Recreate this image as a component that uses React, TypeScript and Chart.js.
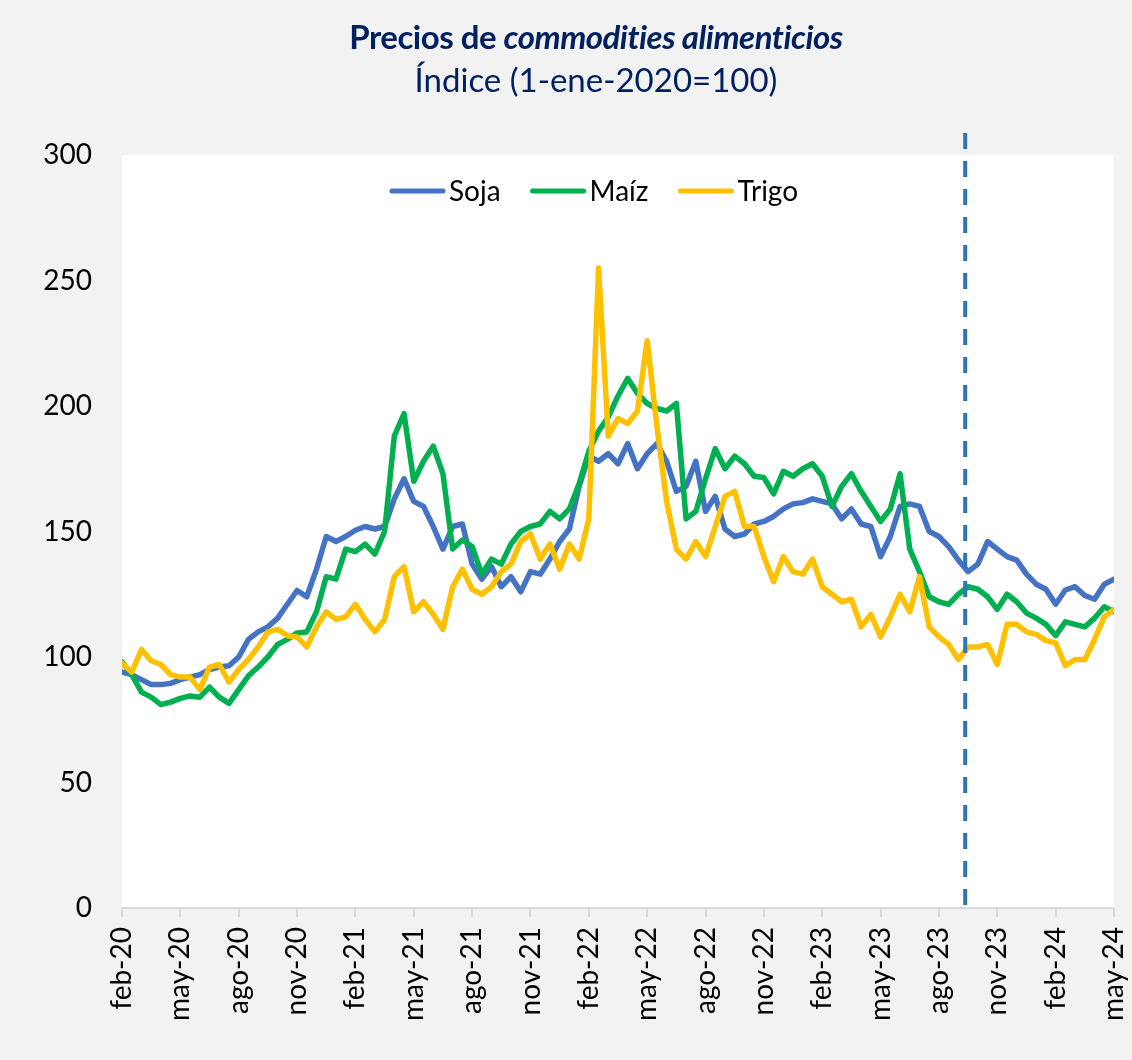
import React, { useEffect, useRef } from "react";
import { Chart, registerables } from "chart.js";

Chart.register(...registerables);

// Quarterly tick labels (x axis in months since feb-20)
const tickLabels = [
  "feb-20", "may-20", "ago-20", "nov-20",
  "feb-21", "may-21", "ago-21", "nov-21",
  "feb-22", "may-22", "ago-22", "nov-22",
  "feb-23", "may-23", "ago-23", "nov-23",
  "feb-24", "may-24",
];

const seriesNames = ["Soja", "Maíz", "Trigo"];
const seriesColors = ["#4472C4", "#00B050", "#FFC000"];

// Semi-monthly readings (index 1-ene-2020 = 100)
const sampleStepMonths = 0.5;

const soja = [
  94, 93, 91, 89, 89, 89.5, 91, 92, 93, 95,
  96, 96.5, 100, 107, 110, 112, 115.5, 121, 126.5, 124,
  135, 148, 146, 148, 150.5, 152, 151, 152, 163, 171,
  162, 160, 152, 143, 152, 153, 137, 131, 136, 128,
  132, 126, 134, 133, 139, 146, 151, 168, 180, 178,
  181, 177, 185, 175, 181, 185, 178, 166, 168, 178,
  158, 164, 151, 148, 149, 153, 154, 156, 159, 161,
  161.5, 163, 162, 161, 155, 159, 153, 152, 140, 148,
  160, 161, 160, 150, 148, 144, 138.6, 134, 137, 146,
  143, 140, 138.6, 133, 129, 127, 121, 126.7, 128, 124.5,
  123, 129, 131,
];

const maiz = [
  98, 93, 86, 84, 81, 82, 83.5, 84.5, 84, 88,
  84, 81.5, 87, 92.5, 96, 100, 105, 107, 109.6, 110,
  118, 132, 131, 143, 142, 145, 141, 150, 188, 197,
  170, 178, 184, 173, 143, 146.6, 144, 133, 139, 137,
  145, 150, 152, 153, 158, 155, 159, 169, 182, 190,
  195.6, 204, 211, 205, 201, 199, 198, 201, 155, 158,
  171, 183, 175, 180, 177, 172, 171.5, 165, 174, 172,
  175, 177, 172, 160, 168, 173, 166, 160, 154, 159,
  173, 143, 134, 124, 122, 121, 125, 128, 127, 124,
  119, 125, 122, 117.5, 115.5, 113, 108.5, 114, 113, 112,
  115.5, 120, 118,
];

const trigo = [
  97.5, 94, 103, 98.5, 97, 93, 92, 92, 87, 96,
  97, 90, 95, 99, 104, 110, 111, 108.5, 108, 104,
  112, 118, 115, 116, 121, 115, 110, 115, 132, 136,
  118, 122, 117, 111, 128, 135, 127, 125, 128, 134,
  137, 146, 149, 139, 145, 135, 145, 139, 155, 255,
  188, 195, 193, 198, 226, 192, 162, 143, 139, 146,
  140, 152, 164, 166, 152, 152, 140, 130, 140, 134,
  133, 139, 128, 125, 122, 123, 112, 117, 108, 116,
  125, 118, 132, 112, 108, 105, 99, 104, 104, 105,
  97, 113, 113, 110, 109, 106.5, 105.6, 96.5, 99, 99,
  107, 116, 119,
];

const seriesValues = [soja, maiz, trigo];

// Vertical marker (mid-September 2023), in months since feb-20
const markerMonth = 43.35;

const FONT = 'Lato, "Open Sans", sans-serif';

export default function App() {
  const ref = useRef<HTMLCanvasElement>(null);

  useEffect(() => {
    if (!ref.current) return;

    const plotBg = {
      id: "plotBg",
      beforeDraw(chart: any) {
        const { ctx, chartArea: a } = chart;
        ctx.save();
        ctx.fillStyle = "#FFFFFF";
        ctx.fillRect(a.left, a.top, a.right - a.left, a.bottom - a.top);
        ctx.restore();
      },
    };

    const marker = {
      id: "marker",
      afterDatasetsDraw(chart: any) {
        const { ctx, chartArea: a } = chart;
        const x = chart.scales.x.getPixelForValue(markerMonth);
        ctx.save();
        ctx.strokeStyle = "#2E75B6";
        ctx.lineWidth = 4;
        ctx.setLineDash([16, 12]);
        ctx.beginPath();
        ctx.moveTo(x, a.top - 22);
        ctx.lineTo(x, a.bottom - 2);
        ctx.stroke();
        ctx.restore();
      },
    };

    const lineLegend = {
      id: "lineLegend",
      afterDraw(chart: any) {
        const { ctx, chartArea: a } = chart;
        ctx.save();
        ctx.font = `28px ${FONT}`;
        ctx.textBaseline = "middle";
        const sampleW = 55;
        const gapText = 4;
        const gapItem = 30;
        let x = a.left + 268;
        const y = a.top + 36;
        chart.data.datasets.forEach((ds: any) => {
          ctx.strokeStyle = ds.borderColor;
          ctx.lineWidth = 5;
          ctx.lineCap = "round";
          ctx.beginPath();
          ctx.moveTo(x + 2, y);
          ctx.lineTo(x + sampleW - 2, y);
          ctx.stroke();
          ctx.fillStyle = "#000";
          ctx.fillText(ds.label, x + sampleW + gapText, y + 1);
          x += sampleW + gapText + ctx.measureText(ds.label).width + gapItem;
        });
        ctx.restore();
      },
    };

    const datasets = seriesNames.map((name, k) => ({
      label: name,
      data: seriesValues[k].map((v, i) => ({ x: i * sampleStepMonths, y: v })),
      borderColor: seriesColors[k],
      backgroundColor: seriesColors[k],
      borderWidth: 5.5,
      pointRadius: 0,
      tension: 0,
      borderJoinStyle: "round" as const,
      borderCapStyle: "round" as const,
      order: 3 - k,
    }));

    const chart = new Chart(ref.current, {
      type: "line",
      data: { datasets },
      options: {
        responsive: false,
        animation: false,
        devicePixelRatio: 1,
        layout: { padding: { left: 0, top: 155, right: 18, bottom: 0 } },
        plugins: {
          legend: { display: false },
          title: { display: false },
          tooltip: { enabled: false },
        },
        scales: {
          x: {
            type: "linear",
            min: 0,
            max: (tickLabels.length - 1) * 3,
            afterFit(scale: any) {
              scale.height = 152;
              scale.paddingLeft = 0;
              scale.paddingRight = 0;
            },
            ticks: {
              stepSize: 3,
              autoSkip: false,
              maxRotation: 90,
              minRotation: 90,
              padding: 10,
              color: "#000",
              font: { family: FONT, size: 28 },
              callback: (v: any) => tickLabels[Math.round(Number(v) / 3)] ?? "",
            },
            grid: {
              display: true,
              drawOnChartArea: false,
              drawTicks: true,
              tickLength: 9,
              color: "#D9D9D9",
              lineWidth: 2,
            },
            border: { display: true, color: "#D9D9D9", width: 2 },
          },
          y: {
            min: 0,
            max: 300,
            afterFit(scale: any) {
              scale.width = 122;
              scale.paddingTop = 0;
              scale.paddingBottom = 0;
            },
            ticks: {
              stepSize: 50,
              padding: 30,
              color: "#000",
              font: { family: FONT, size: 28 },
            },
            grid: { display: false, drawTicks: false },
            border: { display: false },
          },
        },
      },
      plugins: [plotBg, marker, lineLegend],
    });

    return () => chart.destroy();
  }, []);

  return (
    <div
      style={{
        position: "absolute",
        left: 0,
        top: 0,
        width: 1132,
        height: 1060,
        background: "#F2F2F2",
        overflow: "hidden",
      }}
    >
      <canvas
        ref={ref}
        width={1132}
        height={1060}
        style={{ position: "absolute", left: 0, top: 0, width: 1132, height: 1060 }}
      />
      <div
        style={{
          position: "absolute",
          left: 30,
          top: 15,
          width: 1132,
          textAlign: "center",
          color: "#002060",
          fontFamily: FONT,
          fontSize: 33,
          lineHeight: "43px",
          pointerEvents: "none",
        }}
      >
        <div style={{ fontWeight: 700, letterSpacing: "-0.5px" }}>
          Precios de <i>commodities alimenticios</i>
        </div>
        <div>Índice (1-ene-2020=100)</div>
      </div>
    </div>
  );
}
